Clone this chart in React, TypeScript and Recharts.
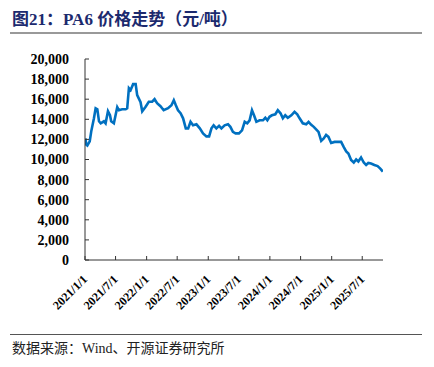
import { LineChart, Line, XAxis, YAxis } from 'recharts'

// PA6 price, yuan/ton
const dates = [
  '2021/1/4', '2021/1/8', '2021/1/15', '2021/1/29', '2021/2/7', '2021/2/23', '2021/3/5', '2021/3/15',
  '2021/3/25', '2021/4/4', '2021/4/23', '2021/5/3', '2021/5/17', '2021/5/29', '2021/6/5', '2021/6/21',
  '2021/7/11', '2021/7/21', '2021/8/9', '2021/8/30', '2021/9/8', '2021/9/18', '2021/9/28', '2021/10/13',
  '2021/10/28', '2021/11/6', '2021/11/26', '2021/12/6', '2021/12/26', '2022/1/14', '2022/2/3', '2022/2/17',
  '2022/3/4', '2022/3/24', '2022/4/12', '2022/5/8', '2022/5/28', '2022/6/11', '2022/6/23', '2022/7/6',
  '2022/7/21', '2022/8/5', '2022/8/21', '2022/9/4', '2022/9/18', '2022/10/3', '2022/10/23', '2022/11/12',
  '2022/12/1', '2022/12/21', '2023/1/6', '2023/1/20', '2023/2/2', '2023/2/18', '2023/3/6', '2023/3/20',
  '2023/4/8', '2023/4/28', '2023/5/12', '2023/5/27', '2023/6/12', '2023/7/2', '2023/7/20', '2023/8/5',
  '2023/8/20', '2023/9/3', '2023/9/17', '2023/9/29', '2023/10/13', '2023/11/1', '2023/11/21', '2023/12/5',
  '2023/12/17', '2023/12/30', '2024/1/13', '2024/2/2', '2024/2/17', '2024/3/4', '2024/3/18', '2024/4/1',
  '2024/4/16', '2024/5/7', '2024/5/26', '2024/6/11', '2024/6/25', '2024/7/14', '2024/8/3', '2024/8/17',
  '2024/9/2', '2024/9/17', '2024/10/1', '2024/10/15', '2024/10/31', '2024/11/15', '2024/11/29', '2024/12/13',
  '2024/12/29', '2025/1/18', '2025/2/6', '2025/2/26', '2025/3/13', '2025/3/28', '2025/4/10', '2025/4/26',
  '2025/5/12', '2025/5/26', '2025/6/8', '2025/6/24', '2025/7/10', '2025/7/24', '2025/8/6', '2025/8/22',
  '2025/9/11', '2025/9/30', '2025/10/16', '2025/10/31',
]

const prices = [
  12100, 11500, 11400, 11800, 12800, 14100, 15100, 15000,
  13800, 13600, 13800, 13600, 14800, 14400, 13800, 13600,
  15200, 14900, 15000, 15000, 15100, 17100, 16900, 17500,
  17500, 16400, 15700, 14800, 15250, 15750, 15750, 16000,
  15600, 15300, 14900, 15100, 15400, 15900, 15400, 14900,
  14600, 14100, 13100, 13100, 13750, 13400, 13500, 13100,
  12600, 12300, 12300, 13100, 13400, 13100, 13350, 13100,
  13400, 13500, 13250, 12750, 12600, 12600, 12900, 13750,
  13600, 13900, 14900, 14400, 13750, 13900, 13900, 14150,
  13900, 14250, 14400, 14500, 14900, 14600, 14100, 14400,
  14150, 14400, 14750, 14500, 14100, 13600, 13500, 13750,
  13450, 13250, 13000, 12750, 11850, 12100, 12450, 12250,
  11650, 11750, 11750, 11750, 11250, 10800, 10600, 9950,
  9700, 10000, 9800, 10200, 9700, 9450, 9650, 9600,
  9450, 9350, 9100, 8800,
]

const xTickLabels = [
  '2021/1/1', '2021/7/1', '2022/1/1', '2022/7/1', '2023/1/1',
  '2023/7/1', '2024/1/1', '2024/7/1', '2025/1/1', '2025/7/1',
]

const yTicks = [0, 2000, 4000, 6000, 8000, 10000, 12000, 14000, 16000, 18000, 20000]

const toTime = (s: string) => {
  const [y, m, d] = s.split('/').map(Number)
  return Date.UTC(y, m - 1, d)
}

const chartData = dates.map((d, i) => ({ t: toTime(d), price: prices[i] }))
const xTicks = xTickLabels.map(toTime)
const xDomain = [toTime('2021/1/1'), toTime('2025/11/1')]

const serif = "'Liberation Serif', 'Times New Roman', 'Noto Sans CJK SC', serif"
const cjk = "'Liberation Serif', 'Noto Sans CJK SC', serif"

const DateTick = (props: any) => {
  const { x, y, payload } = props
  const d = new Date(payload.value)
  const label = `${d.getUTCFullYear()}/${d.getUTCMonth() + 1}/${d.getUTCDate()}`
  const ax = x + 3
  const ay = y + 2
  return (
    <text
      x={ax}
      y={ay}
      transform={`rotate(-45 ${ax} ${ay})`}
      textAnchor="end"
      fontSize={12}
      fontWeight="bold"
      fontFamily={serif}
      fill="#000"
    >
      {label}
    </text>
  )
}

export default function App() {
  return (
    <div
      style={{
        position: 'absolute',
        left: 0,
        top: 0,
        width: 434,
        height: 367,
        background: '#fff',
        overflow: 'hidden',
      }}
    >
      <div
        style={{
          position: 'absolute',
          left: 12,
          top: 10,
          fontFamily: cjk,
          fontWeight: 'bold',
          fontSize: 17,
          color: '#1c2a6e',
          whiteSpace: 'nowrap',
          lineHeight: '20px',
        }}
      >
        图21：PA6 价格走势（元/吨）
      </div>
      <div style={{ position: 'absolute', left: 10, top: 32, width: 412, height: 2, background: '#999' }} />

      <div style={{ position: 'absolute', left: 0, top: 0 }}>
        <LineChart
          width={434}
          height={367}
          data={chartData}
          margin={{ top: 59, right: 51, bottom: 47, left: 10 }}
        >
          <XAxis
            dataKey="t"
            type="number"
            domain={xDomain}
            ticks={xTicks}
            interval={0}
            height={60}
            stroke="#333"
            tickSize={-4}
            tickMargin={22}
            tick={<DateTick />}
            allowDataOverflow
          />
          <YAxis
            domain={[0, 20000]}
            ticks={yTicks}
            interval={0}
            width={75}
            stroke="#333"
            tickSize={-4}
            tickMargin={20}
            tickFormatter={(v: number) => v.toLocaleString('en-US')}
            tick={{ fontSize: 14, fontWeight: 'bold', fill: '#000', fontFamily: serif }}
          />
          <Line
            type="linear"
            dataKey="price"
            stroke="#0070c0"
            strokeWidth={2.6}
            dot={false}
            isAnimationActive={false}
          />
        </LineChart>
      </div>

      <div style={{ position: 'absolute', left: 10, top: 334, width: 412, height: 1, background: '#555' }} />
      <div
        style={{
          position: 'absolute',
          left: 12,
          top: 340,
          fontFamily: cjk,
          fontSize: 14,
          color: '#222',
          whiteSpace: 'nowrap',
          lineHeight: '18px',
        }}
      >
        数据来源：Wind、开源证券研究所
      </div>
    </div>
  )
}
